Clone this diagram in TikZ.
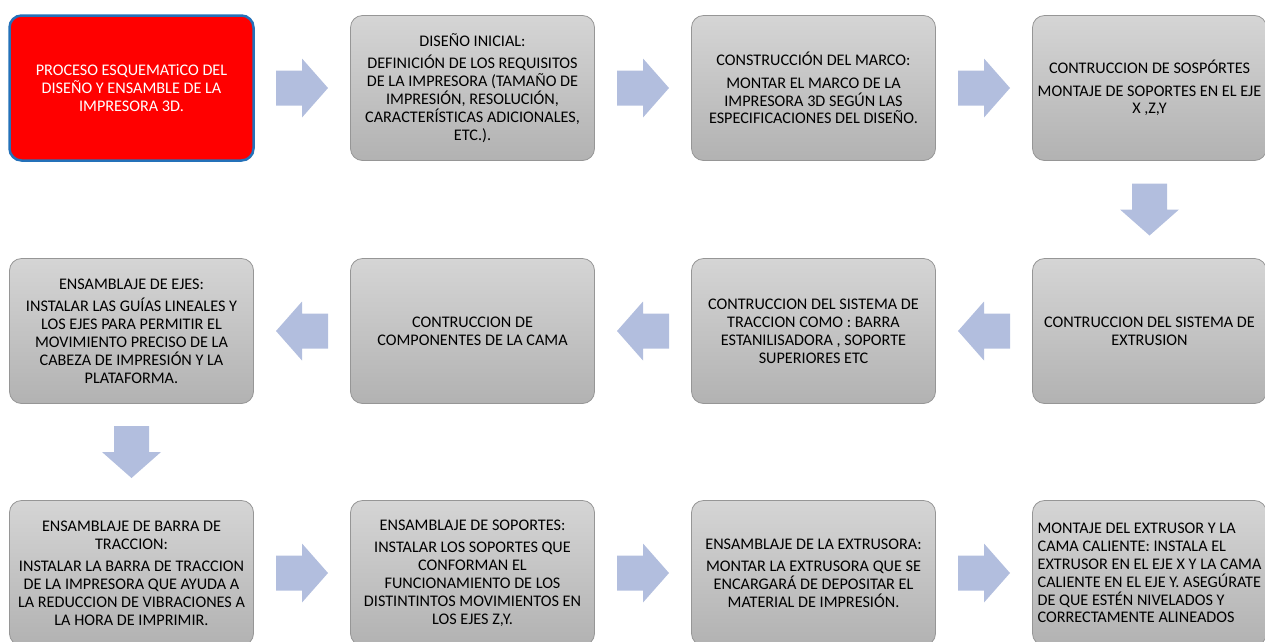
\documentclass[tikz,border=0pt]{standalone}
\usepackage{fontspec}
\setmainfont{Carlito}
\usetikzlibrary{positioning,calc}

\definecolor{cajaarriba}{RGB}{213,213,213}
\definecolor{cajaabajo}{RGB}{178,178,178}
\definecolor{cajaborde}{RGB}{150,150,150}
\definecolor{flechagris}{RGB}{178,190,222}
\definecolor{azulinicio}{RGB}{36,113,185}

\tikzset{
    caja/.style={rectangle, rounded corners=12pt, minimum width=244pt,
        minimum height=145pt, align=center, inner sep=0pt, outer sep=0pt,
        font=\fontsize{16.2}{17.9}\selectfont},
    paso/.style={caja, draw=cajaborde, line width=0.8pt,
        top color=cajaarriba, bottom color=cajaabajo},
    inicio/.style={caja, fill=red, draw=azulinicio, line width=2.5pt, text=white},
    flecha/.pic={
        \fill[flechagris] (-26pt,-17.5pt) -- (0pt,-17.5pt) -- (0pt,-29.5pt)
            -- (26pt,0pt) -- (0pt,29.5pt) -- (0pt,17.5pt) -- (-26pt,17.5pt) -- cycle;
    },
}

\begin{document}
\begin{tikzpicture}
    \useasboundingbox (0,0) rectangle (1265pt,-641pt);

    % fila 1
    \node[inicio] (b1) at (131.5pt,-88pt)
        {PROCESO ESQUEMATiCO DEL\\ DISEÑO Y ENSAMBLE DE LA\\ IMPRESORA 3D.};
    \node[paso, right=97pt of b1] (b2)
        {DISEÑO INICIAL:\\[4.7pt] DEFINICIÓN DE LOS REQUISITOS\\ DE LA IMPRESORA (TAMAÑO DE\\
         IMPRESIÓN, RESOLUCIÓN,\\ CARACTERÍSTICAS ADICIONALES,\\ ETC.).};
    \node[paso, right=97pt of b2] (b3)
        {CONSTRUCCIÓN DEL MARCO:\\[4.7pt] MONTAR EL MARCO DE LA\\ IMPRESORA 3D SEGÚN LAS\\
         ESPECIFICACIONES DEL DISEÑO.};
    \node[paso, right=97pt of b3, minimum width=234pt] (b4)
        {CONTRUCCION DE SOSPÓRTES\\[4.7pt] MONTAJE DE SOPORTES EN EL EJE\\ X ,Z,Y};

    % fila 2
    \node[paso, below=98pt of b4, minimum width=234pt] (b5)
        {CONTRUCCION DEL SISTEMA DE\\ EXTRUSION};
    \node[paso, left=97pt of b5] (b6)
        {CONTRUCCION DEL SISTEMA DE\\ TRACCION COMO : BARRA\\ ESTANILISADORA , SOPORTE\\
         SUPERIORES ETC};
    \node[paso, left=97pt of b6] (b7)
        {CONTRUCCION DE\\ COMPONENTES DE LA CAMA};
    \node[paso, left=97pt of b7] (b8)
        {ENSAMBLAJE DE EJES:\\[4.7pt] INSTALAR LAS GUÍAS LINEALES Y\\ LOS EJES PARA PERMITIR EL\\
         MOVIMIENTO PRECISO DE LA\\ CABEZA DE IMPRESIÓN Y LA\\ PLATAFORMA.};

    % fila 3
    \node[paso, below=97pt of b8] (b9)
        {ENSAMBLAJE DE BARRA DE\\ TRACCION:\\[4.7pt] INSTALAR LA BARRA DE TRACCION\\
         DE LA IMPRESORA QUE AYUDA A\\ LA REDUCCION DE VIBRACIONES A\\ LA HORA DE IMPRIMIR.};
    \node[paso, right=97pt of b9] (b10)
        {ENSAMBLAJE DE SOPORTES:\\[4.7pt] INSTALAR LOS SOPORTES QUE\\ CONFORMAN EL\\
         FUNCIONAMIENTO DE LOS\\ DISTINTINTOS MOVIMIENTOS EN\\ LOS EJES Z,Y.};
    \node[paso, right=97pt of b10] (b11)
        {ENSAMBLAJE DE LA EXTRUSORA:\\[4.7pt] MONTAR LA EXTRUSORA QUE SE\\
         ENCARGARÁ DE DEPOSITAR EL\\ MATERIAL DE IMPRESIÓN.};
    \node[paso, right=97pt of b11, minimum width=234pt, align=left] (b12)
        {MONTAJE DEL EXTRUSOR Y LA\\ CAMA CALIENTE: INSTALA EL\\ EXTRUSOR EN EL EJE X Y LA CAMA\\
         CALIENTE EN EL EJE Y. ASEGÚRATE\\ DE QUE ESTÉN NIVELADOS Y\\ CORRECTAMENTE ALINEADOS};

    % flechas
    \pic (f12) at ($(b1.east)!0.5!(b2.west)$) {flecha};
    \pic (f23) at ($(b2.east)!0.5!(b3.west)$) {flecha};
    \pic (f34) at ($(b3.east)!0.5!(b4.west)$) {flecha};
    \pic[rotate=-90] (f45) at ($(b4.south)!0.5!(b5.north)$) {flecha};
    \pic[rotate=180] (f56) at ($(b5.west)!0.5!(b6.east)$) {flecha};
    \pic[rotate=180] (f67) at ($(b6.west)!0.5!(b7.east)$) {flecha};
    \pic[rotate=180] (f78) at ($(b7.west)!0.5!(b8.east)$) {flecha};
    \pic[rotate=-90] (f89) at ($(b8.south)!0.5!(b9.north)$) {flecha};
    \pic (f910) at ($(b9.east)!0.5!(b10.west)$) {flecha};
    \pic (f1011) at ($(b10.east)!0.5!(b11.west)$) {flecha};
    \pic (f1112) at ($(b11.east)!0.5!(b12.west)$) {flecha};
\end{tikzpicture}
\end{document}
